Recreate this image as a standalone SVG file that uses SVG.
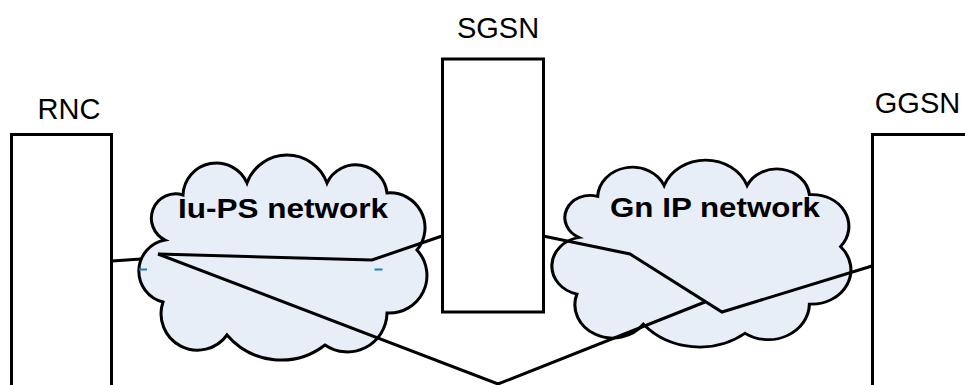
<svg xmlns="http://www.w3.org/2000/svg" width="965" height="385" viewBox="0 0 965 385">
<defs>
<style>
.box{fill:#ffffff;stroke:#000000;stroke-width:3}
.cloud{fill:#e7eef8;stroke:#000000;stroke-width:3;vector-effect:non-scaling-stroke}
.wire{fill:none;stroke:#000000;stroke-width:3;stroke-linejoin:miter}
.lbl{font-family:"Liberation Sans",Arial,sans-serif;font-size:29px;fill:#000000}
.net{font-family:"Liberation Sans",Arial,sans-serif;font-size:28px;font-weight:bold;fill:#000000}
.pt{fill:#1a80c0}
</style>
<path id="cloudShape" d="M165,240 A24.3,24.3 0 0 1 183,195 A33.4,33.4 0 0 1 247,183 A42.6,42.6 0 0 1 327,183 A31.6,31.6 0 0 1 387,193 A34.9,34.9 0 0 1 417,250 A37.6,37.6 0 0 1 387,313 A39.6,39.6 0 0 1 325,345 A71.3,71.3 0 0 1 227,335 A36.4,36.4 0 0 1 163,302 A31.7,31.7 0 0 1 165,240 Z"/>
</defs>
<rect width="965" height="385" fill="#ffffff"/>
<g id="rnc">
<rect class="box" x="11.5" y="134.5" width="100" height="300"/>
<text class="lbl" x="69" y="119" text-anchor="middle">RNC</text>
</g>
<g id="sgsn">
<rect class="box" x="442.5" y="59" width="101" height="253"/>
<text class="lbl" x="498" y="38" text-anchor="middle">SGSN</text>
</g>
<g id="ggsn">
<rect class="box" x="872.5" y="134.5" width="200" height="300"/>
<text class="lbl" x="917.5" y="113" text-anchor="middle">GGSN</text>
</g>
<g id="rnc-link">
<polyline class="wire" points="112,261 141,259"/>
</g>
<g id="iu-ps-network">
<use href="#cloudShape" class="cloud"/>
<text class="net" x="178" y="218" textLength="210" lengthAdjust="spacingAndGlyphs">Iu-PS network</text>
</g>
<g id="gn-ip-network">
<use href="#cloudShape" class="cloud" transform="translate(552,160) scale(1.038,0.912) translate(-139,-155)"/>
<text class="net" x="610" y="217" textLength="210" lengthAdjust="spacingAndGlyphs">Gn IP network</text>
</g>
<g id="connectors">
<polyline class="wire" points="158,254 372,260 442,236"/>
<polyline class="wire" points="158,254 498,384 705,302"/>
<polyline class="wire" points="543,236 630,254 722,312 872,266"/>
</g>
<g id="points">
<rect class="pt" x="139" y="268.5" width="8" height="2"/>
<rect class="pt" x="374.5" y="268.5" width="8" height="2"/>
</g>
</svg>
